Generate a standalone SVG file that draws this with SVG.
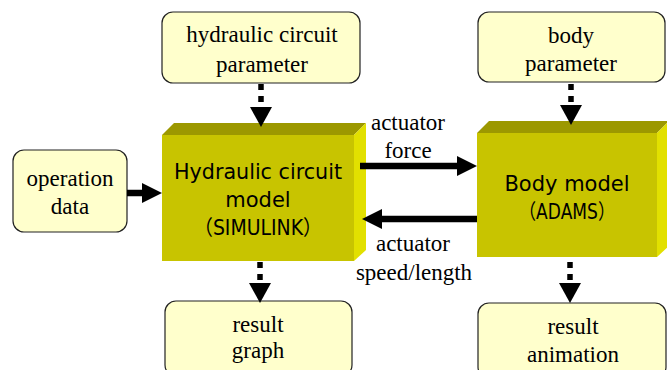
<svg xmlns="http://www.w3.org/2000/svg" width="667" height="370" viewBox="0 0 667 370">
<style>
.box{fill:#FFFFCC;stroke:#222;stroke-width:1.2}
.lbl{font-family:"Liberation Serif","Times New Roman",serif;font-size:23px;fill:#000;text-anchor:middle}
.mdl{font-family:"DejaVu Sans","Noto Sans CJK JP",sans-serif;font-size:21px;fill:#000;text-anchor:middle}
.front{fill:#C8C400}
.top{fill:#9C9800}
.side{fill:#E2E000}
.dot{stroke:#000;stroke-width:5.5;stroke-dasharray:6,6;fill:none}
.solid{stroke:#000;stroke-width:6.5;fill:none}
.head{fill:#000}
</style>
<rect width="667" height="370" fill="#fff"/>
<g id="hyd-param">
<rect class="box" x="162" y="12" width="198" height="71" rx="11"/>
<text class="lbl" x="262" y="42">hydraulic circuit</text>
<text class="lbl" x="262" y="72">parameter</text>
</g>
<g id="body-param">
<rect class="box" x="478" y="12" width="187" height="70" rx="11"/>
<text class="lbl" x="571" y="43">body</text>
<text class="lbl" x="571" y="71">parameter</text>
</g>
<g id="operation">
<rect class="box" x="13" y="150" width="114" height="82" rx="11"/>
<text class="lbl" x="70" y="186">operation</text>
<text class="lbl" x="70" y="214">data</text>
</g>
<g id="hyd-model">
<polygon class="top" points="162,135 174,123 366,123 354,135"/>
<polygon class="side" points="354,135 366,123 366,250 354,261"/>
<rect class="front" x="162" y="135" width="192" height="126"/>
<text class="mdl" x="258" y="179" textLength="168" lengthAdjust="spacingAndGlyphs">Hydraulic circuit</text>
<text class="mdl" x="258" y="207">model</text>
<text class="mdl" x="258" y="235" textLength="128" lengthAdjust="spacingAndGlyphs">（SIMULINK）</text>
</g>
<g id="body-model">
<polygon class="top" points="477,133 489,121 669,121 657,133"/>
<polygon class="side" points="657,133 669,121 669,246 657,257"/>
<rect class="front" x="477" y="133" width="180" height="124"/>
<text class="mdl" x="567" y="191">Body model</text>
<text class="mdl" x="567" y="219" textLength="96" lengthAdjust="spacingAndGlyphs">（ADAMS）</text>
</g>
<g id="result-graph">
<rect class="box" x="165" y="301" width="187" height="75" rx="11"/>
<text class="lbl" x="258" y="332">result</text>
<text class="lbl" x="258" y="358">graph</text>
</g>
<g id="result-anim">
<rect class="box" x="478" y="303" width="188" height="75" rx="11"/>
<text class="lbl" x="573" y="334">result</text>
<text class="lbl" x="573" y="362">animation</text>
</g>
<g id="connectors">
<line class="dot" x1="261" y1="84" x2="261" y2="108"/>
<polygon class="head" points="250,107 272,107 261,127"/>
<line class="dot" x1="571" y1="84" x2="571" y2="106"/>
<polygon class="head" points="560,105 582,105 571,125"/>
<line class="dot" x1="260" y1="262" x2="260" y2="284"/>
<polygon class="head" points="249,283 271,283 260,303"/>
<line class="dot" x1="570" y1="262" x2="570" y2="284"/>
<polygon class="head" points="559,283 581,283 570,303"/>
<line class="solid" x1="127" y1="193" x2="144" y2="193"/>
<polygon class="head" points="142,183 142,203 162,193"/>
<line class="solid" x1="360" y1="166" x2="459" y2="166"/>
<polygon class="head" points="457,156 457,176 477,166"/>
<line class="solid" x1="477" y1="219" x2="380" y2="219"/>
<polygon class="head" points="382,209 382,229 362,219"/>
<text class="lbl" x="408" y="130">actuator</text>
<text class="lbl" x="408" y="158">force</text>
<text class="lbl" x="413" y="251">actuator</text>
<text class="lbl" x="414" y="280">speed/length</text>
</g>
</svg>
